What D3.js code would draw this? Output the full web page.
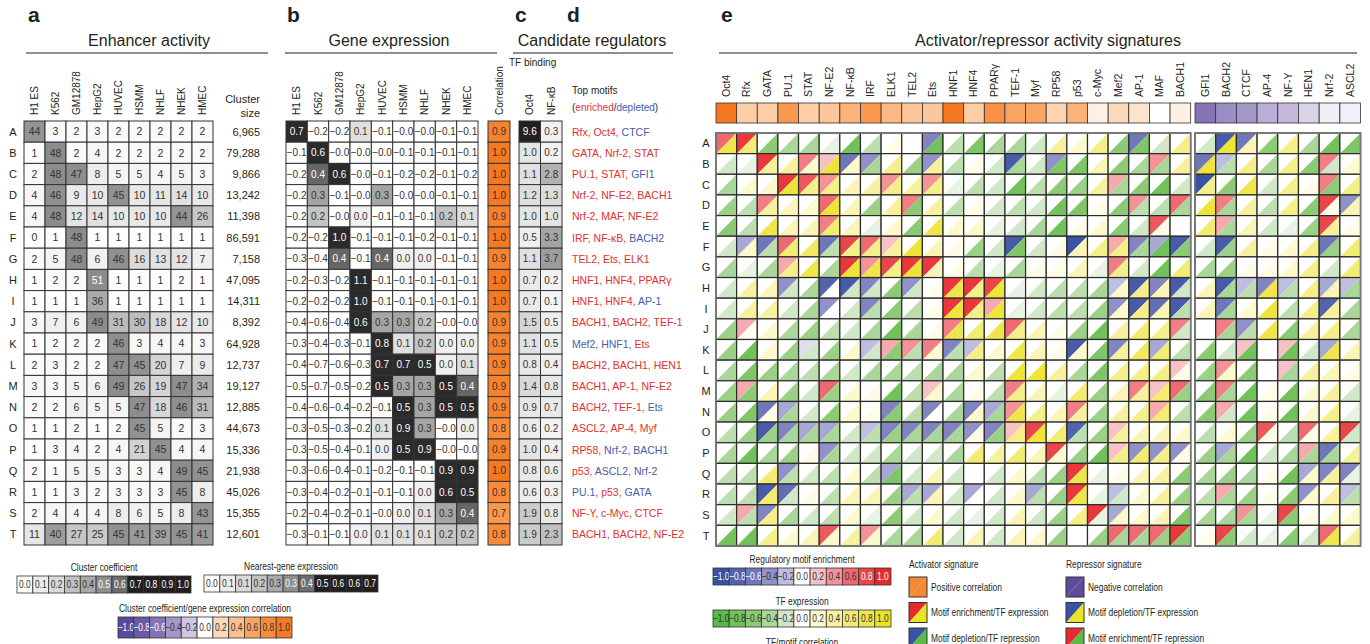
<!DOCTYPE html>
<html>
<head>
<meta charset="utf-8">
<script src="https://cdn.jsdelivr.net/npm/d3@7"></script>
<style>
body { margin: 0; background: #fff; }
svg text { font-family: "Liberation Sans", Arial, Helvetica, sans-serif; fill: #231f20; }
</style>
</head>
<body>
<script>
// ----- data -----
const clusters = "ABCDEFGHIJKLMNOPQRST".split("");
const cellTypes = ["H1 ES", "K562", "GM12878", "HepG2", "HUVEC", "HSMM", "NHLF", "NHEK", "HMEC"];

// enhancer activity (cluster coefficient x100)
const enhancerActivity = [
    [44, 3, 2, 3, 2, 2, 2, 2, 2],
    [1, 48, 2, 4, 2, 2, 2, 2, 2],
    [2, 48, 47, 8, 5, 5, 4, 5, 3],
    [4, 46, 9, 10, 45, 10, 11, 14, 10],
    [4, 48, 12, 14, 10, 10, 10, 44, 26],
    [0, 1, 48, 1, 1, 1, 1, 1, 1],
    [2, 5, 48, 6, 46, 16, 13, 12, 7],
    [1, 2, 2, 51, 1, 1, 1, 2, 1],
    [1, 1, 1, 36, 1, 1, 1, 1, 1],
    [3, 7, 6, 49, 31, 30, 18, 12, 10],
    [1, 2, 2, 2, 46, 3, 4, 4, 3],
    [2, 3, 2, 2, 47, 45, 20, 7, 9],
    [3, 3, 5, 6, 49, 26, 19, 47, 34],
    [2, 2, 6, 5, 5, 47, 18, 46, 31],
    [1, 1, 2, 1, 2, 45, 5, 2, 3],
    [1, 3, 4, 2, 4, 21, 45, 4, 4],
    [2, 1, 5, 5, 3, 3, 4, 49, 45],
    [1, 1, 3, 2, 3, 3, 3, 45, 8],
    [2, 4, 4, 4, 8, 6, 5, 8, 43],
    [11, 40, 27, 25, 45, 41, 39, 45, 41]
];
const clusterSize = ["6,965", "79,288", "9,866", "13,242", "11,398", "86,591", "7,158", "47,095", "14,311", "8,392",
    "64,928", "12,737", "19,127", "12,885", "44,673", "15,336", "21,938", "45,026", "15,355", "12,601"];

// nearest-gene expression (-0 kept on purpose, printed as −0.0)
const geneExpression = [
    [0.7, -0.2, -0.2, 0.1, -0.1, -0.0, -0.0, -0.1, -0.1],
    [-0.1, 0.6, -0.0, -0.0, -0.0, -0.1, -0.1, -0.1, -0.1],
    [-0.2, 0.4, 0.6, -0.0, -0.1, -0.2, -0.2, -0.1, -0.2],
    [-0.2, 0.3, -0.1, -0.0, 0.3, -0.0, -0.0, -0.1, -0.1],
    [-0.2, 0.2, -0.0, 0.0, -0.1, -0.1, -0.1, 0.2, 0.1],
    [-0.2, -0.2, 1.0, -0.1, -0.1, -0.1, -0.2, -0.1, -0.1],
    [-0.3, -0.4, 0.4, -0.1, 0.4, 0.0, 0.0, -0.1, -0.1],
    [-0.2, -0.3, -0.2, 1.1, -0.1, -0.1, -0.1, -0.1, -0.1],
    [-0.2, -0.2, -0.2, 1.0, -0.1, -0.1, -0.1, -0.1, -0.1],
    [-0.4, -0.6, -0.4, 0.6, 0.3, 0.3, 0.2, -0.0, -0.0],
    [-0.3, -0.4, -0.3, -0.1, 0.8, 0.1, 0.2, 0.0, 0.0],
    [-0.4, -0.7, -0.6, -0.3, 0.7, 0.7, 0.5, 0.0, 0.1],
    [-0.5, -0.7, -0.5, -0.2, 0.5, 0.3, 0.3, 0.5, 0.4],
    [-0.4, -0.6, -0.4, -0.2, -0.1, 0.5, 0.3, 0.5, 0.5],
    [-0.3, -0.5, -0.3, -0.2, 0.1, 0.9, 0.3, -0.0, 0.0],
    [-0.3, -0.5, -0.4, -0.1, 0.0, 0.5, 0.9, -0.0, -0.0],
    [-0.3, -0.6, -0.4, -0.1, -0.2, -0.1, -0.1, 0.9, 0.9],
    [-0.3, -0.4, -0.2, -0.1, -0.1, -0.1, 0.0, 0.6, 0.5],
    [-0.2, -0.4, -0.2, -0.1, -0.0, 0.0, 0.1, 0.3, 0.4],
    [-0.3, -0.1, -0.1, 0.0, 0.1, 0.1, 0.1, 0.2, 0.2]
];

const clusterCorrelation = [0.9, 1.0, 1.0, 1.0, 0.9, 1.0, 0.9, 1.0, 1.0, 0.9, 0.9, 0.9, 0.9, 0.9, 0.8, 0.9, 1.0, 0.8, 0.7, 0.8];

const bindingTFs = ["Oct4", "NF-κB"];
const bindingOct4 = [9.6, 1.0, 1.1, 1.2, 1.0, 0.5, 1.1, 0.7, 0.7, 1.5, 1.1, 0.8, 1.4, 0.9, 0.6, 1.0, 0.8, 0.6, 1.9, 1.9];
const bindingNFkB = [0.3, 0.2, 2.8, 1.3, 1.0, 3.3, 3.7, 0.2, 0.1, 0.5, 0.5, 0.4, 0.8, 0.7, 0.2, 0.4, 0.6, 0.3, 0.8, 2.3];

const topMotifs = [
    ["Rfx", "Oct4", "CTCF"], ["GATA", "Nrf-2", "STAT"], ["PU.1", "STAT", "GFI1"], ["Nrf-2", "NF-E2", "BACH1"],
    ["Nrf-2", "MAF", "NF-E2"], ["IRF", "NF-κB", "BACH2"], ["TEL2", "Ets", "ELK1"], ["HNF1", "HNF4", "PPARγ"],
    ["HNF1", "HNF4", "AP-1"], ["BACH1", "BACH2", "TEF-1"], ["Mef2", "HNF1", "Ets"], ["BACH2", "BACH1", "HEN1"],
    ["BACH1", "AP-1", "NF-E2"], ["BACH2", "TEF-1", "Ets"], ["ASCL2", "AP-4", "Myf"], ["RP58", "Nrf-2", "BACH1"],
    ["p53", "ASCL2", "Nrf-2"], ["PU.1", "p53", "GATA"], ["NF-Y", "c-Myc", "CTCF"], ["BACH1", "BACH2", "NF-E2"]
];
// 1 = enriched (red), 0 = depleted (blue)
const motifEnriched = [
    [1, 1, 0], [1, 1, 1], [1, 1, 0], [1, 1, 1], [1, 1, 1], [1, 1, 0], [1, 1, 1], [1, 1, 1], [1, 1, 0], [1, 1, 1],
    [0, 0, 1], [1, 1, 1], [1, 1, 1], [1, 1, 0], [1, 1, 1], [1, 0, 0], [1, 0, 0], [0, 1, 0], [1, 1, 1], [1, 1, 1]
];

// panel e
const activators = ["Oct4", "Rfx", "GATA", "PU.1", "STAT", "NF-E2", "NF-κB", "IRF", "ELK1", "TEL2", "Ets", "HNF1",
    "HNF4", "PPARγ", "TEF-1", "Myf", "RP58", "p53", "c-Myc", "Mef2", "AP-1", "MAF", "BACH1"];
const repressors = ["GFI1", "BACH2", "CTCF", "AP-4", "NF-Y", "HEN1", "Nrf-2", "ASCL2"];
const activatorCorr = [1.0, 0.3, 0.3, 0.7, 0.3, 0.35, 0.5, 0.7, 0.45, 0.35, 0.35, 1.0, 0.3, 0.75, 0.6, 0.6, 0.25, 0.5, 0.08, 0.2, 0.15, 0.0, 0.08];
const repressorCorr = [-0.6, -0.45, -0.4, -0.3, -0.25, -0.15, -0.06, -0.05];

// motif enrichment per cluster (23 activators then 8 repressors)
const motifEnrichment = [
    [0.6, 0.9, 0, 0, 0, 0, 0, 0, 0, 0, -0.5, 0, 0, 0, 0, 0, 0, 0, 0, 0, -0.6, 0, 0, 0, -0.9, -0.6, 0, 0, 0, 0, 0],
    [0, 0, 0.9, 0, 0.5, 0.2, -0.6, -0.4, 0, 0, -0.4, 0, 0, 0, -0.9, 0, -0.4, 0, 0, 0, 0, 0.4, 0, -0.6, -0.2, 0, 0, 0, 0, 0.5, 0],
    [0, 0, 0, 0.9, 0.7, 0.4, 0, 0, 0.4, 0, 0.4, 0, 0, 0, 0, 0, 0, 0, 0, 0.3, 0, 0, 0, -1.0, 0, 0, 0, 0, 0, 0.5, 0],
    [0, 0, 0.5, 0, 0, 0.6, 0, 0, 0, 0.5, 0, 0, 0, 0, 0, 0, 0, 0, 0, 0, 0.4, 0, 0.6, 0, 0.5, 0, 0, 0, 0, 0.8, -0.4],
    [0, 0, 0, 0, 0, 0.5, 0, 0, 0, 0, 0, 0, 0, 0, 0, 0, 0, 0, 0, 0, 0, 0.7, 0, 0, 0.3, 0, 0, 0, 0, 0.8, 0],
    [0, -0.3, -0.6, 0.6, 0, -0.6, 0.8, 0.6, 0.2, 0, 0, 0, 0, 0, -0.9, 0, 0, -1.0, 0, 0.3, -0.5, -0.3, -0.9, 0, -0.9, 0, 0, 0, 0, -0.6, 0],
    [0, 0, 0, 0.3, 0, 0, 0.9, 0.4, 0.8, 0.9, 0.9, 0, 0, 0, 0, 0, 0, 0, 0, 0.5, 0, 0, 0, 0, 0, 0, 0, 0, 0, 0, 0],
    [0, 0, 0, -0.4, 0, -0.8, -0.9, -0.5, 0, -0.4, 0, 0.9, 0.9, 0.8, 0, 0, 0, 0, 0, -0.2, -0.9, -0.5, -0.9, 0, -0.9, -0.2, -0.5, -0.2, 0, -0.3, -0.2],
    [0, 0, 0, 0, 0, -0.4, 0, -0.5, 0, 0, 0, 0.9, 0.9, 0.3, 0, 0, 0, 0, 0, -0.4, -0.9, -0.7, -0.9, 0, -0.6, 0, 0, 0, 0, -0.8, 0],
    [0, 0.3, 0, 0, 0, 0, 0, 0, 0, 0, 0, 0.5, 0, 0, 0.6, 0, 0, 0, 0, 0, 0, 0, 0.5, 0, 0.5, -0.4, 0, 0, 0, 0, 0],
    [0, 0, 0, 0, -0.1, 0, 0, -0.2, 0.3, 0.4, 0.5, -0.5, -0.2, 0, 0, 0, 0, -0.9, 0, -0.5, 0, -0.3, 0, 0, 0, 0.2, 0, 0.2, 0, -0.3, 0],
    [0, 0, 0, 0, 0, 0, 0, 0, 0, 0, 0, 0, 0, 0, 0, 0, 0, 0, 0, 0, 0, 0, 0.2, 0, 0.4, 0, 0, 0.2, 0, 0, 0],
    [0, 0.3, 0, 0, 0, 0.6, 0, 0, 0, 0, 0.2, 0, 0, 0, 0.5, 0, 0, 0, 0, 0, 0.5, 0.2, 0.6, 0, 0.5, 0, 0, 0, 0, 0, 0],
    [0, 0, -0.6, -0.3, 0, 0, 0, 0, -0.5, 0, -0.5, 0, -0.5, -0.3, 0.4, 0, 0, 0.5, 0, 0, 0, 0.3, 0, 0, 0.3, 0, 0, 0, 0, 0, 0],
    [0, 0, -0.9, -0.5, -0.3, -0.3, 0, -0.2, -0.5, -0.5, -0.5, -0.5, -0.4, -0.5, 0.2, 0.8, 0, -0.8, 0, 0.2, 0, 0, 0, 0, 0, 0, 0.7, 0, 0.6, 0, 0.8],
    [0, 0, 0, 0, 0, -0.4, 0, 0, 0, 0, 0, 0, 0, 0, 0, 0, 0.8, 0, 0, 0.2, -0.4, -0.4, -0.4, 0, -0.3, 0, 0, 0, 0.3, -0.6, 0],
    [0, 0, 0, -0.4, 0, 0, 0, 0, -0.3, 0, 0, 0, 0, 0, 0, 0, 0, 0.9, 0, 0, 0, 0, 0, 0, 0, 0, 0, 0, -0.3, -0.5, -0.5],
    [0, 0, -0.9, -0.7, 0, 0, 0, 0, 0, -0.3, -0.3, 0, -0.3, 0, 0, -0.3, 0, 0.9, 0, -0.2, 0, 0, 0, 0, 0.3, 0, 0, 0, -0.4, 0, -0.2],
    [0, 0.3, -0.5, 0, 0, 0, 0, 0, 0, 0, 0, 0, 0, 0, 0, 0, 0, 0, 0.9, -0.3, 0, 0, 0, 0, 0, 0.4, 0, 0.8, 0, 0, 0],
    [0, 0, 0, 0, 0, 0.7, 0, 0.4, 0, 0, 0, 0, 0, 0, 0, 0, 0, 0, 0, 0.6, 0.6, 0.6, 0.9, 0, 0.8, 0, 0, 0, 0, 0.6, 0]
];

// TF expression per cluster (same column order)
const tfExpression = [
    [0.8, 0.6, -0.6, -0.4, -0.4, -0.1, -0.8, -0.3, 0.1, 0, -0.8, -0.3, -0.7, -0.4, -0.4, -0.2, 0.4, 0.2, 0.5, -0.6, -0.7, -0.2, 0.5, -0.2, 0.9, 0.3, -0.6, 0.5, -0.4, -0.8, -0.7],
    [-0.2, -0.1, 0.4, 0.4, 0.2, 0.9, 0.2, -0.4, 0.5, -0.5, 0.4, -0.3, 0.1, -0.2, -0.4, -0.2, -0.7, -0.7, 0.3, -0.6, -0.4, -0.4, 0.4, 0.9, -0.3, 0.5, -0.4, 0.5, -0.6, -0.2, 0.2],
    [-0.4, 0.2, 0.2, 0.9, 0.5, 0.5, 0.3, 0.4, 0.5, 0.4, 0.5, -0.1, -0.3, -0.2, -0.8, -0.3, -0.6, -0.5, 0.4, -0.4, -0.6, -0.8, -0.2, 0.5, -0.6, 0.8, -0.2, 0.5, 0.1, -0.6, 0.5],
    [-0.5, -0.3, 0.4, 0.3, 0.2, 0.9, 0.3, -0.5, 0.4, -0.6, 0.4, -0.3, 0.1, -0.2, -0.3, -0.2, -0.8, -0.7, 0.1, -0.6, -0.3, -0.3, -0.4, 0.9, -0.4, 0.4, -0.3, 0.5, -0.6, 0.1, 0.3],
    [-0.6, -0.3, 0.8, 0.3, 0.3, 0.6, 0.3, -0.1, 0.2, -0.6, 0.8, 0.2, 0.2, -0.1, -0.2, -0.4, -0.8, 0.1, 0.2, -0.6, -0.2, 0.1, 0, 0.6, -0.4, 0.3, -0.2, -0.1, -0.5, 0.4, 0.1],
    [-0.2, 0.2, -0.3, 0.6, 0.7, -0.3, 0.5, 0.5, 0.4, 0.9, 0.3, 0.1, -0.5, -0.2, -0.7, -0.2, 0.1, 0.3, 0.5, 0.5, -0.4, -0.8, -0.6, -0.2, -0.5, 0.4, 0.1, 0.2, 0.5, -0.5, 0.6],
    [-0.4, -0.1, -0.4, 0.5, 0.8, -0.4, 0.9, 0.8, 0.5, 0.9, 0.3, 0.1, -0.3, -0.1, -0.4, 0.1, 0.1, 0.3, -0.1, 0.5, -0.2, -0.8, 0.6, -0.4, -0.5, 0.1, 0.1, 0.2, 0.5, -0.2, 0.6],
    [-0.2, 0.4, 0.3, -0.2, -0.4, 0, -0.2, -0.2, -0.6, -0.2, 0.1, 0.8, 0.5, 0.9, -0.1, -0.2, -0.3, -0.3, -0.4, 0.2, 0.5, 0.3, -0.2, 0.3, -0.4, -0.3, 0.8, -0.3, 0.5, 0.3, -0.4],
    [-0.2, 0.4, 0.4, -0.2, -0.4, 0, -0.2, -0.3, -0.6, -0.3, 0.1, 0.9, 0.5, 0.9, -0.1, -0.2, -0.3, -0.3, -0.5, 0.2, 0.5, 0.3, -0.3, 0.3, -0.4, 0.2, 0.9, -0.3, 0.5, 0.4, -0.4],
    [-0.5, 0.05, 0.2, -0.4, -0.5, -0.3, -0.2, -0.4, -0.8, -0.4, 0.1, 0.8, 0.6, 0.8, 0.5, 0.3, 0.1, -0.5, -0.8, 0.4, 0.6, 0.5, -0.2, 0, -0.4, -0.3, 0.8, -0.6, 0.4, 0.5, -0.4],
    [-0.5, -0.8, 0.2, -0.5, -0.2, -0.5, 0.2, -0.2, -0.6, -0.3, 0.2, -0.3, 0.5, 0.2, 0.8, 0.3, 0.1, 0.2, -0.7, 0.4, 0.7, 0.6, -0.3, -0.6, -0.2, -0.8, 0, -0.8, -0.2, 0.8, 0.3],
    [-0.4, -0.7, -0.5, -0.4, -0.3, -0.4, -0.2, -0.4, -0.4, -0.3, -0.4, -0.4, 0.2, -0.3, 0.9, 0.9, 0.4, -0.4, -0.7, 0.5, 0.5, 0.5, 0.1, -0.5, 0.2, -0.6, 0, -0.4, 0.4, 0.3, 0.1],
    [-0.5, -0.6, 0.3, -0.5, -0.2, -0.5, 0.2, 0.1, -0.8, -0.3, 0.2, -0.4, 0.1, -0.3, 0.5, 0.3, -0.1, 0.6, -0.5, 0.3, 0.4, 0.6, -0.5, -0.6, -0.4, -0.8, 0.1, -0.8, 0.2, 0.4, -0.2],
    [-0.5, -0.7, 0.1, -0.4, -0.2, -0.6, 0.2, 0.1, -0.6, -0.3, 0, -0.4, 0.2, -0.4, 0.8, 0.5, 0.3, 0.4, -0.5, 0.4, 0.5, 0.6, -0.3, -0.6, -0.2, -0.8, 0.1, -0.8, 0.2, 0.5, -0.1],
    [-0.3, -0.5, -0.5, -0.4, -0.4, -0.4, -0.2, -0.3, -0.5, -0.4, -0.4, -0.4, 0.1, -0.5, 0.5, 0.9, 0.6, -0.3, -0.5, 0.4, 0.3, 0.3, 0.2, -0.3, 0.2, -0.5, 0.1, -0.3, 0.1, 0.4, -0.2],
    [-0.4, -0.8, -0.4, -0.5, 0.1, -0.4, -0.2, -0.2, -0.4, -0.2, -0.2, -0.4, 0.6, 0.4, 0.6, 0.3, 0.2, -0.5, -0.8, 0.5, 0.6, 0.5, 0.1, -0.5, -0.4, -0.8, -0.2, -0.4, -0.4, -0.4, 0.4],
    [-0.3, -0.3, 0.6, -0.3, -0.2, -0.3, 0.2, -0.3, -0.7, -0.2, 0.3, -0.2, 0, -0.2, 0.2, -0.3, -0.5, 0.8, -0.1, 0.1, 0.3, 0.4, -0.6, -0.4, -0.5, -0.4, 0.1, -0.8, 0.2, 0.4, -0.1],
    [-0.3, -0.3, 0.6, -0.2, 0.1, -0.3, 0.3, 0.3, -0.5, -0.3, 0.3, -0.2, 0, -0.2, 0.2, -0.3, -0.5, 0.8, -0.1, -0.2, 0.2, 0.4, -0.5, -0.3, -0.4, -0.5, 0.1, -0.6, 0.2, 0.4, -0.3],
    [-0.2, -0.3, 0.5, -0.4, -0.2, -0.3, 0.2, -0.1, -0.6, -0.2, 0.2, -0.2, -0.1, -0.2, 0.3, -0.2, -0.5, 0.5, -0.1, 0.2, 0.2, 0.3, -0.7, -0.4, -0.4, -0.4, -0.1, -0.6, 0.1, 0.2, 0.2],
    [-0.8, -0.8, 0.5, 0.2, 0.3, 0.2, 0.4, 0.2, -0.4, -0.4, 0.6, -0.2, 0.3, -0.2, 0.3, 0.2, -0.5, 0, -0.5, -0.4, -0.4, -0.5, -0.6, 0.1, -0.6, -0.2, -0.1, -0.6, -0.2, 0.8, 0.4]
];

// legend ticks
const signedTicks = [-1.0, -0.8, -0.6, -0.4, -0.2, 0.0, 0.2, 0.4, 0.6, 0.8, 1.0];
const coefTicks = ["0.0", "0.1", "0.2", "0.3", "0.4", "0.5", "0.6", "0.7", "0.8", "0.9", "1.0"];
const nearestTicks = ["0.0", "0.1", "0.1", "0.2", "0.3", "0.3", "0.4", "0.5", "0.6", "0.6", "0.7"];

// ----- colours -----
const ink = "#231f20";
const greyRamp = ["#ffffff", "#ececec", "#d9d9d9", "#c2c2c2", "#a9a9a9", "#8e8e8e", "#6e6e6e", ink, ink, ink, ink];
const corrRamp = ["#5b4a9b", "#6b5aa6", "#8474b6", "#a396c8", "#cfc5e1", "#ffffff", "#fdd9bb", "#fcc08f", "#fba462", "#f98b3a", "#f47920"];
const motifRamp = ["#3953a4", "#5563ad", "#7077b9", "#9191c9", "#bebee0", "#ffffff", "#f8c2c5", "#f39297", "#ee6a70", "#ea4549", "#e8292d"];
const exprRamp = ["#5bb947", "#73c15b", "#8dca75", "#aad699", "#d0e8c7", "#ffffff", "#fcf9cd", "#f7f19f", "#f3ec73", "#efe64b", "#ece324"];

const enhancerColor = d3.scaleLinear().domain([0, 10, 20, 30, 40, 48]).range(["#ffffff", "#e8e8e8", "#d4d4d4", "#bebebe", "#9c9c9c", "#8c8c8c"]).clamp(true);
const exprColor = d3.scaleLinear().domain([-0.05, 0, 0.1, 0.2, 0.3, 0.4, 0.5]).range(["#ffffff", "#f0f0f0", "#e0e0e0", "#c4c4c4", "#a5a5a5", "#666666", "#2b2b2b"]).clamp(true);
const bindColor = d3.scaleLinear().domain([0, 1, 2, 3, 4, 9]).range(["#f7f7f7", "#e4e4e4", "#c8c8c8", "#acacac", "#969696", ink]).clamp(true);
const corrColor = d3.scaleLinear().domain(signedTicks).range(corrRamp).clamp(true);
const motifColor = d3.scaleLinear().domain(signedTicks).range(motifRamp).clamp(true);
const tfColor = d3.scaleLinear().domain(signedTicks).range(exprRamp).clamp(true);
const red = "#e0312f", blue = "#4a5aad";

// ----- scales -----
const rowY = d3.scaleBand().domain(clusters).range([121, 545]);
const colA = d3.scaleBand().domain(cellTypes).range([24, 213]);
const colB = d3.scaleBand().domain(cellTypes).range([286, 478]);
const colBind = d3.scaleBand().domain(bindingTFs).range([519, 562]);
const rowE = d3.scaleBand().domain(clusters).range([133, 546]);
const colAct = d3.scaleBand().domain(activators).range([716, 1190.7]);
const colRep = d3.scaleBand().domain(repressors).range([1195, 1360.6]);
const xSig = name => activators.includes(name) ? colAct(name) : colRep(name);

const fmt = v => (v < 0 || Object.is(v, -0)) ? "\u2212" + Math.abs(v).toFixed(1) : v.toFixed(1);

const svg = d3.select("body").append("svg")
    .attr("width", 1370)
    .attr("height", 644);

// condensed legend text (no narrow face installed, so squeeze it)
function narrow(g, x, y, str, size, anchor) {
    return g.append("text")
        .attr("transform", "translate(" + x + "," + y + ") scale(0.8,1)")
        .attr("text-anchor", anchor || "start")
        .attr("font-size", size)
        .text(str);
}

// ----- letters, titles and rules -----
[["a", 28], ["b", 287], ["c", 515], ["d", 567], ["e", 721]].forEach(([l, x]) => {
    svg.append("text").attr("x", x).attr("y", 22)
        .attr("font-size", 21).attr("font-weight", "bold").text(l);
});

[["Enhancer activity", 149, 26, 268], ["Gene expression", 389, 285, 497],
 ["Candidate regulators", 592, 513, 673], ["Activator/repressor activity signatures", 1048, 719, 1357]]
    .forEach(([t, cx, x1, x2]) => {
        svg.append("text").attr("x", cx).attr("y", 46)
            .attr("text-anchor", "middle").attr("font-size", 16).text(t);
        svg.append("line").attr("x1", x1).attr("x2", x2).attr("y1", 53).attr("y2", 53)
            .attr("stroke", ink).attr("stroke-width", 1.2);
    });

function columnHeaders(names, scale, bottom, size) {
    svg.append("g").selectAll("text")
        .data(names)
        .join("text")
        .attr("transform", d => "translate(" + (scale(d) + scale.bandwidth() / 2 + 3.5) + "," + bottom + ") rotate(-90)")
        .attr("font-size", size)
        .text(d => d);
}

function rowLabels(scale, x) {
    svg.append("g").selectAll("text")
        .data(clusters)
        .join("text")
        .attr("x", x)
        .attr("y", d => scale(d) + scale.bandwidth() / 2 + 4)
        .attr("text-anchor", "middle")
        .attr("font-size", 11)
        .text(d => d);
}

// ----- panel a -----
columnHeaders(cellTypes, colA, 115, 10);
rowLabels(rowY, 13);

const gA = svg.append("g");
enhancerActivity.forEach((row, i) => {
    const y = rowY(clusters[i]);
    row.forEach((v, j) => {
        const x = colA(cellTypes[j]);
        gA.append("rect").attr("x", x).attr("y", y)
            .attr("width", colA.bandwidth()).attr("height", rowY.bandwidth())
            .attr("fill", enhancerColor(v)).attr("stroke", "#333").attr("stroke-width", 1);
        gA.append("text").attr("x", x + colA.bandwidth() / 2).attr("y", y + rowY.bandwidth() / 2 + 3.8)
            .attr("text-anchor", "middle").attr("font-size", 10.5)
            .style("fill", v >= 50 ? "#fff" : "#333")
            .text(v);
    });
});

svg.append("text").attr("x", 260).attr("y", 103).attr("text-anchor", "end").attr("font-size", 11).text("Cluster");
svg.append("text").attr("x", 260).attr("y", 117).attr("text-anchor", "end").attr("font-size", 11).text("size");
svg.append("g").selectAll("text")
    .data(clusterSize)
    .join("text")
    .attr("x", 260)
    .attr("y", (d, i) => rowY(clusters[i]) + rowY.bandwidth() / 2 + 4)
    .attr("text-anchor", "end")
    .attr("font-size", 11)
    .text(d => d);

// ----- panel b -----
columnHeaders(cellTypes, colB, 115, 10);
const gB = svg.append("g");
geneExpression.forEach((row, i) => {
    const y = rowY(clusters[i]);
    row.forEach((v, j) => {
        const x = colB(cellTypes[j]);
        gB.append("rect").attr("x", x).attr("y", y)
            .attr("width", colB.bandwidth()).attr("height", rowY.bandwidth())
            .attr("fill", Object.is(v, -0) ? "#fff" : exprColor(v)).attr("stroke", "#333").attr("stroke-width", 1);
        gB.append("text").attr("x", x + colB.bandwidth() / 2).attr("y", y + rowY.bandwidth() / 2 + 3.6)
            .attr("text-anchor", "middle").attr("font-size", 10)
            .style("fill", v >= 0.35 ? "#fff" : "#333")
            .text(fmt(v));
    });
});

// ----- panel c -----
const corrX = 488, corrW = 22;
svg.append("text")
    .attr("transform", "translate(" + (corrX + corrW / 2 + 3.5) + ",115) rotate(-90)")
    .attr("font-size", 10).text("Correlation");
const gC = svg.append("g");
clusterCorrelation.forEach((v, i) => {
    const y = rowY(clusters[i]);
    gC.append("rect").attr("x", corrX).attr("y", y).attr("width", corrW).attr("height", rowY.bandwidth())
        .attr("fill", corrColor(v)).attr("stroke", "#333").attr("stroke-width", 1);
    gC.append("text").attr("x", corrX + corrW / 2).attr("y", y + rowY.bandwidth() / 2 + 3.6)
        .attr("text-anchor", "middle").attr("font-size", 10).style("fill", "#333").text(v.toFixed(1));
});

// TF binding
svg.append("text").attr("x", 509).attr("y", 66).attr("font-size", 10).text("TF binding");
columnHeaders(bindingTFs, colBind, 115, 10);
const gBind = svg.append("g");
[bindingOct4, bindingNFkB].forEach((col, j) => {
    col.forEach((v, i) => {
        const x = colBind(bindingTFs[j]), y = rowY(clusters[i]);
        gBind.append("rect").attr("x", x).attr("y", y).attr("width", colBind.bandwidth()).attr("height", rowY.bandwidth())
            .attr("fill", bindColor(v)).attr("stroke", "#333").attr("stroke-width", 1);
        gBind.append("text").attr("x", x + colBind.bandwidth() / 2).attr("y", y + rowY.bandwidth() / 2 + 3.6)
            .attr("text-anchor", "middle").attr("font-size", 10)
            .style("fill", v > 5 ? "#fff" : "#333").text(v.toFixed(1));
    });
});

// ----- panel d -----
svg.append("text").attr("x", 572).attr("y", 94).attr("font-size", 10).text("Top motifs");
const legendD = svg.append("text").attr("x", 572).attr("y", 111).attr("font-size", 10);
legendD.append("tspan").text("(");
legendD.append("tspan").style("fill", red).text("enriched");
legendD.append("tspan").text("/");
legendD.append("tspan").style("fill", blue).text("depleted");
legendD.append("tspan").text(")");

topMotifs.forEach((names, i) => {
    const t = svg.append("text").attr("x", 572)
        .attr("y", rowY(clusters[i]) + rowY.bandwidth() / 2 + 4)
        .attr("font-size", 10.5);
    names.forEach((n, k) => {
        t.append("tspan").style("fill", motifEnriched[i][k] ? red : blue)
            .text(n + (k < names.length - 1 ? ", " : ""));
    });
});

// ----- panel e -----
columnHeaders(activators, colAct, 97, 10.5);
columnHeaders(repressors, colRep, 97, 10.5);
rowLabels(rowE, 706);

const signatures = activators.concat(repressors);
const sigCorr = activatorCorr.concat(repressorCorr);
const cw = colAct.bandwidth();

svg.append("g").selectAll("rect")
    .data(signatures)
    .join("rect")
    .attr("x", d => xSig(d))
    .attr("y", 103)
    .attr("width", cw)
    .attr("height", 20)
    .attr("fill", (d, i) => corrColor(sigCorr[i]))
    .attr("stroke", "#333")
    .attr("stroke-width", 0.8);

const gE = svg.append("g");
clusters.forEach((c, i) => {
    const y = rowE(c), h = rowE.bandwidth();
    signatures.forEach((s, j) => {
        const x = xSig(s);
        gE.append("path")
            .attr("d", "M" + x + "," + y + "H" + (x + cw) + "L" + x + "," + (y + h) + "Z")
            .attr("fill", motifColor(motifEnrichment[i][j]));
        gE.append("path")
            .attr("d", "M" + (x + cw) + "," + y + "V" + (y + h) + "H" + x + "Z")
            .attr("fill", tfColor(tfExpression[i][j]));
        gE.append("rect").attr("x", x).attr("y", y).attr("width", cw).attr("height", h)
            .attr("fill", "none").attr("stroke", "#2b2b2b").attr("stroke-width", 1.2);
    });
});

// group outlines
[[716, 1190.7], [1195, 1360.6]].forEach(([x1, x2]) => {
    svg.append("rect").attr("x", x1).attr("y", 133).attr("width", x2 - x1).attr("height", 413)
        .attr("fill", "none").attr("stroke", "#777").attr("stroke-width", 1.6);
});

// ----- legends -----
function rampLegend(x, y, w, h, labels, colors, title, whiteText) {
    const band = d3.scaleBand().domain(d3.range(labels.length)).range([x, x + w]);
    const g = svg.append("g");
    narrow(g, x + w / 2, y - 5, title, 10.5, "middle");
    labels.forEach((l, i) => {
        g.append("rect").attr("x", band(i)).attr("y", y).attr("width", band.bandwidth()).attr("height", h)
            .attr("fill", colors[i]).attr("stroke", "#333").attr("stroke-width", 0.8);
        narrow(g, band(i) + band.bandwidth() / 2, y + h / 2 + 3.6, l, 10.5, "middle")
            .style("fill", whiteText(i) ? "#fff" : "#333");
    });
}

rampLegend(17, 576, 174, 17, coefTicks, greyRamp, "Cluster coefficient", i => i >= 5);
rampLegend(204, 575, 174, 17, nearestTicks, greyRamp, "Nearest-gene expression", i => i >= 5);
rampLegend(118, 617, 174, 21, signedTicks.map(fmt), corrRamp, "Cluster coefficient/gene expression correlation", i => i <= 2);
rampLegend(713, 568, 178, 17, signedTicks.map(fmt), motifRamp, "Regulatory motif enrichment", i => i <= 2 || i >= 9);
rampLegend(713, 610, 178, 17, signedTicks.map(fmt), exprRamp, "TF expression", () => false);
narrow(svg, 802, 646, "TF/motif correlation", 10.5, "middle");

function signatureLegend(x, title, items) {
    narrow(svg, x, 568, title, 10.5);
    items.forEach(([label, c1, c2], k) => {
        const y = 577 + k * 25.5, w = 18, h = 20;
        svg.append("path").attr("d", "M" + x + "," + y + "h" + w + "L" + x + "," + (y + h) + "Z").attr("fill", c1);
        svg.append("path").attr("d", "M" + (x + w) + "," + y + "v" + h + "h" + (-w) + "Z").attr("fill", c2);
        svg.append("rect").attr("x", x).attr("y", y).attr("width", w).attr("height", h)
            .attr("fill", "none").attr("stroke", "#333").attr("stroke-width", 1);
        narrow(svg, x + 22, y + h / 2 + 3.8, label, 10.5);
    });
}

signatureLegend(909, "Activator signature", [
    ["Positive correlation", "#f68a33", "#f68a33"],
    ["Motif enrichment/TF expression", motifRamp[10], exprRamp[10]],
    ["Motif depletion/TF repression", motifRamp[0], exprRamp[0]]
]);
signatureLegend(1066, "Repressor signature", [
    ["Negative correlation", "#5f4b9c", "#5f4b9c"],
    ["Motif depletion/TF expression", motifRamp[0], exprRamp[10]],
    ["Motif enrichment/TF repression", motifRamp[10], exprRamp[0]]
]);
</script>
</body>
</html>
